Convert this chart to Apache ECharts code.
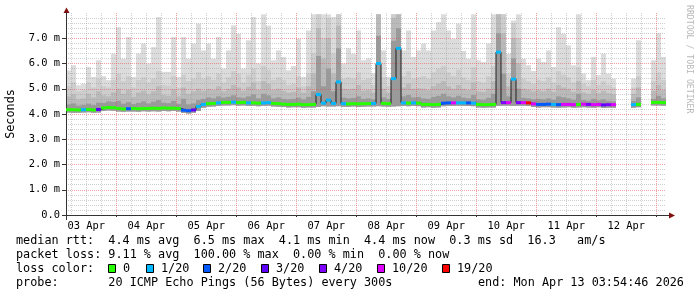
<!DOCTYPE html>
<html><head><meta charset="utf-8">
<script src="https://cdn.jsdelivr.net/npm/echarts@6/dist/echarts.min.js"></script>
<style>html,body{margin:0;padding:0;background:#fff}#c{width:697px;height:297px}</style>
</head><body><div id="c"></div>
<script>
// ---- time frame (minutes after 03 Apr 00:00) ----
const START_MIN = 235;     // 03 Apr 03:55
const END_MIN = 14635;     // 13 Apr 03:55
const BIN_MIN = 120;       // 2-hour consolidation bins
const STEP_MIN = 5;        // axis category step
const dayLabels = ['03 Apr','04 Apr','05 Apr','06 Apr','07 Apr','08 Apr','09 Apr','10 Apr','11 Apr','12 Apr'];

// ---- median rtt (ms) per bin ----
const rttMedian = [4.17,4.17,4.16,4.17,4.18,4.16,4.18,4.24,4.26,4.25,
 4.22,4.20,4.21,4.22,4.21,4.22,4.22,4.23,4.22,4.24,
 4.23,4.23,4.22,4.15,4.13,4.16,4.30,4.38,4.41,4.42,
 4.44,4.46,4.46,4.47,4.45,4.46,4.44,4.44,4.43,4.44,
 4.45,4.42,4.41,4.39,4.38,4.38,4.39,4.37,4.37,4.38,
 4.77,4.43,4.55,4.42,5.27,4.41,4.40,4.41,4.40,4.41,
 4.41,4.42,6.00,4.42,4.41,5.40,6.60,4.44,4.43,4.44,
 4.43,4.38,4.38,4.37,4.38,4.43,4.44,4.44,4.44,4.44,
 4.44,4.43,4.38,4.37,4.37,4.38,6.45,4.45,4.45,5.38,
 4.45,4.45,4.44,4.40,4.38,4.38,4.39,4.38,4.37,4.38,
 4.38,4.37,4.38,4.39,4.38,4.37,4.38,4.36,4.37,4.37,
 null,null,null,4.37,4.38,null,null,4.46,4.46,4.45];
// ---- smoke: lowest ping, inner percentiles, highest ping (ms) ----
const rttMin = [4.06,4.05,4.05,4.06,4.07,4.05,4.06,4.12,4.14,4.13,
 4.10,4.09,4.10,4.10,4.09,4.11,4.10,4.11,4.10,4.12,
 4.11,4.12,4.10,4.04,4.02,4.05,4.12,4.25,4.29,4.30,
 4.32,4.34,4.34,4.35,4.33,4.34,4.32,4.33,4.31,4.32,
 4.33,4.30,4.29,4.28,4.26,4.27,4.27,4.25,4.26,4.26,
 4.28,4.31,4.30,4.30,4.31,4.29,4.28,4.30,4.28,4.29,
 4.30,4.30,4.31,4.30,4.29,4.30,4.31,4.32,4.31,4.32,
 4.31,4.26,4.27,4.25,4.26,4.31,4.32,4.32,4.33,4.32,
 4.32,4.31,4.26,4.25,4.26,4.26,4.32,4.33,4.33,4.32,
 4.33,4.33,4.32,4.28,4.26,4.27,4.27,4.26,4.25,4.26,
 4.27,4.25,4.26,4.27,4.26,4.25,4.27,4.24,4.25,4.25,
 null,null,null,4.25,4.27,null,null,4.34,4.34,4.33];
const rttP1 = [4.38,4.42,4.33,4.36,4.41,4.35,4.45,4.44,4.50,4.48,
 4.52,4.41,4.47,4.39,4.44,4.50,4.42,4.49,4.55,4.45,
 4.43,4.52,4.40,4.60,4.38,4.42,4.55,4.60,4.66,4.62,
 4.70,4.65,4.68,4.74,4.66,4.64,4.70,4.78,4.62,4.80,
 4.74,4.62,4.66,4.60,4.58,4.60,4.65,4.58,4.68,4.90,
 6.30,5.10,5.80,4.90,6.60,4.65,4.62,4.64,4.70,4.60,
 4.62,4.58,7.10,4.66,4.60,6.90,7.40,4.70,4.75,4.66,
 4.68,4.62,4.60,4.68,4.72,4.80,4.70,4.66,4.72,4.65,
 4.62,4.75,4.58,4.56,4.64,4.80,7.20,5.60,4.70,6.20,
 5.00,4.64,4.62,4.58,4.60,4.58,4.62,4.56,4.70,4.66,
 4.62,4.56,4.80,4.55,4.52,4.60,4.54,4.58,4.52,4.50,
 null,null,null,4.52,4.66,null,null,4.60,4.72,4.62];
const rttP2 = [4.70,4.78,4.58,4.62,4.80,4.66,4.90,4.74,4.70,4.86,
 5.00,4.80,4.95,4.68,4.85,4.92,4.78,4.90,5.10,4.75,
 4.72,4.98,4.70,5.05,4.80,4.90,5.00,4.92,5.00,4.95,
 5.10,4.90,5.00,5.15,5.05,4.92,5.08,5.25,4.95,5.30,
 5.20,4.95,5.00,4.92,4.85,4.88,5.05,4.85,5.10,5.60,
 7.40,6.20,7.00,5.60,7.50,5.00,4.98,5.00,5.15,4.92,
 4.95,4.85,7.95,5.00,4.85,7.80,7.95,5.05,5.20,5.00,
 5.02,5.00,4.95,5.10,5.20,5.30,5.10,5.00,5.15,5.00,
 4.95,5.25,4.90,4.88,5.00,5.30,7.95,7.20,5.10,7.00,
 6.00,5.00,4.95,4.90,4.95,4.90,5.00,4.88,5.15,5.05,
 5.00,4.88,5.30,4.85,4.80,4.95,4.82,4.92,4.82,4.78,
 null,null,null,4.80,5.05,null,null,4.92,5.15,4.95];
const rttP3 = [5.10,5.25,4.90,4.95,5.25,5.05,5.40,5.10,5.05,5.35,
 5.60,5.30,5.50,5.05,5.35,5.45,5.25,5.40,5.70,5.15,
 5.12,5.50,5.05,5.55,5.30,5.40,5.65,5.40,5.50,5.35,
 5.60,5.25,5.45,5.70,5.60,5.25,5.55,5.80,5.30,5.90,
 5.75,5.35,5.45,5.35,5.15,5.20,5.50,5.10,5.60,6.40,
 7.95,7.00,7.80,6.40,7.95,5.40,5.45,5.40,5.65,5.35,
 5.40,5.15,7.95,5.45,5.10,7.95,7.95,5.50,5.70,5.40,
 5.45,5.50,5.40,5.65,5.80,5.90,5.65,5.50,5.75,5.45,
 5.35,5.85,5.30,5.25,5.50,5.90,7.95,7.95,5.60,7.60,
 7.00,5.40,5.30,5.20,5.35,5.30,5.45,5.25,5.70,5.55,
 5.45,5.25,5.85,5.20,5.10,5.35,5.15,5.30,5.15,5.05,
 null,null,null,5.05,5.50,null,null,5.30,5.65,5.35];
const rttMax = [5.73,5.93,5.14,5.20,5.86,5.47,6.13,5.50,5.34,6.39,
 7.44,6.19,7.05,5.47,6.39,6.79,6.00,6.65,7.84,5.67,
 5.67,7.05,5.47,7.05,6.19,6.79,7.58,6.52,6.79,6.19,
 7.05,5.80,6.52,7.51,7.18,5.80,6.92,7.84,6.00,7.95,
 7.50,6.13,6.52,6.26,5.73,5.90,6.98,5.47,7.31,7.95,
 7.95,7.95,7.95,7.84,7.95,6.00,6.60,6.39,7.31,6.13,
 6.20,5.60,7.95,6.52,5.47,7.95,7.95,6.52,7.31,6.26,
 6.52,6.79,6.52,7.31,7.64,7.95,7.31,6.98,7.58,6.50,
 6.19,7.95,6.13,6.06,6.79,7.95,7.95,7.95,6.39,7.70,
 7.95,6.19,5.93,5.70,6.19,6.06,6.52,5.86,7.44,7.18,
 6.72,5.93,7.95,5.60,5.34,6.26,5.54,6.39,5.60,5.40,
 null,null,null,5.40,6.92,null,null,6.13,7.20,6.26];
// ---- loss category per bin (index into lossLabels) ----
const lossIndex = [0,0,0,1,0,0,3,0,0,0,
 0,0,2,0,0,0,0,0,0,0,
 0,0,0,2,2,3,1,1,0,0,
 1,0,0,1,0,0,1,0,0,1,
 1,0,0,0,0,0,0,0,0,0,
 1,1,1,1,1,1,0,0,0,0,
 0,1,1,0,0,1,1,1,0,1,
 0,0,0,0,0,2,2,5,1,1,
 2,1,0,0,0,0,1,4,5,1,
 4,5,6,5,2,2,2,1,2,5,
 5,5,0,5,4,5,5,3,4,5,
 null,null,null,1,0,null,null,0,0,0];
const lossLabels = ['0','1/20','2/20','3/20','4/20','10/20','19/20'];
const lossColors = ['#26ff00','#00b8ff','#0059ff','#5e00ff','#7e00ff','#dd00ff','#ff0000'];
const statLines = [
  'median rtt:  4.4 ms avg  6.5 ms max  4.1 ms min  4.4 ms now  0.3 ms sd  16.3   am/s',
  'packet loss: 9.11 % avg  100.00 % max  0.00 % min  0.00 % now',
  'loss color:',
  'probe:       20 ICMP Echo Pings (56 Bytes) every 300s'
];
const endText = 'end: Mon Apr 13 03:54:46 2026';

// ---------------- build ----------------
const N = rttMedian.length;
const MONO = "'DejaVu Sans Mono', monospace";
const axisCats = [];
for (let m = START_MIN; m <= END_MIN; m += STEP_MIN) axisCats.push(String(m));

function band(lowArr, highArr, color) {
  const data = [];
  for (let i = 0; i < N; i++) {
    if (highArr[i] == null) continue;
    const t0 = START_MIN + i * BIN_MIN;
    data.push([t0, t0 + BIN_MIN, lowArr[i], highArr[i]]);
  }
  return {
    type: 'custom', xAxisIndex: 0, yAxisIndex: 0, z: 1, silent: true, animation: false,
    encode: { x: [0, 1], y: [2, 3] },
    renderItem(params, api) {
      const a = api.coord([api.value(0), api.value(3)]);
      const b = api.coord([api.value(1), api.value(2)]);
      return { type: 'rect', shape: { x: a[0], y: a[1], width: b[0] - a[0], height: b[1] - a[1] },
               style: { fill: color } };
    },
    data
  };
}

const medLine = [];
const medSegs = [];
for (let i = 0; i < N; i++) {
  const t0 = START_MIN + i * BIN_MIN, t1 = t0 + BIN_MIN;
  if (rttMedian[i] == null) { medLine.push([t0, null]); continue; }
  medLine.push([t0, rttMedian[i]]);
  if (i === N - 1 || rttMedian[i + 1] == null) medLine.push([t1, rttMedian[i]]);
  medSegs.push([t0, t1, rttMedian[i], lossIndex[i]]);
}

const greyGrid = 'rgba(150,150,150,0.45)';
const redGrid = 'rgba(225,70,70,0.5)';
const isSix = (v) => { const m = +v; return m % 360 === 0 && m % 1440 !== 0; };
const isMid = (v) => +v % 1440 === 0;
const isNoon = (v) => +v % 1440 === 720;

const chart = echarts.init(document.getElementById('c'), null, { renderer: 'canvas' });
chart.setOption({
  animation: false,
  backgroundColor: '#ffffff',
  grid: { left: 66, top: 13, width: 600, height: 202, containLabel: false, outerBoundsMode: 'none' },
  xAxis: [
    { type: 'value', min: START_MIN, max: END_MIN, show: false, gridIndex: 0 },
    { type: 'category', data: axisCats, boundaryGap: false, position: 'bottom', z: 3, gridIndex: 0,
      axisLine: { show: true, lineStyle: { color: '#333', width: 1 } },
      axisTick: { show: false },
      axisLabel: { interval: (i, v) => isNoon(v), formatter: (v) => dayLabels[Math.floor(+v / 1440)],
                   color: '#000', fontFamily: MONO, fontSize: 10.4, margin: 6 },
      splitLine: { show: true, interval: (i, v) => isSix(v), lineStyle: { color: greyGrid, width: 1, type: [1, 1] } } },
    { type: 'category', data: axisCats, boundaryGap: false, position: 'bottom', z: 3, gridIndex: 0,
      axisLine: { show: false },
      axisTick: { show: true, interval: (i, v) => isMid(v), length: 2, lineStyle: { color: '#333' } },
      axisLabel: { show: false },
      splitLine: { show: true, interval: (i, v) => isMid(v), lineStyle: { color: redGrid, width: 1, type: [1, 1] } } }
  ],
  yAxis: [{
    type: 'value', min: 0, max: 8, interval: 1, z: 3,
    name: 'Seconds', nameLocation: 'middle', nameRotate: 90, nameGap: 49,
    nameTextStyle: { color: '#000', fontFamily: MONO, fontSize: 11.8 },
    axisLine: { show: true, lineStyle: { color: '#333', width: 1 } },
    axisTick: { show: true, length: 4, lineStyle: { color: '#333' } },
    axisLabel: { color: '#000', fontFamily: MONO, fontSize: 10.4, margin: 6, showMaxLabel: false, showMinLabel: true,
                 formatter: (v) => v === 0 ? '0.0' : (v >= 8 ? '' : v.toFixed(1) + ' m') },
    splitLine: { show: true, showMinLine: false, showMaxLine: false, lineStyle: { color: redGrid, width: 1, type: [1, 1] } },
    minorTick: { show: false, splitNumber: 5 },
    minorSplitLine: { show: true, lineStyle: { color: greyGrid, width: 1, type: [1, 1] } }
  }],
  series: [
    band(rttMin, rttMax, '#dcdcdc'),
    band(rttMin, rttP3, '#cdcdcd'),
    band(rttMin, rttP2, '#bababa'),
    band(rttMin, rttP1, '#9a9a9a'),
    { type: 'line', xAxisIndex: 0, yAxisIndex: 0, data: medLine, step: 'end', showSymbol: false, symbol: 'none',
      connectNulls: false, z: 5, silent: true, lineStyle: { color: '#202020', width: 1 } },
    { type: 'custom', xAxisIndex: 0, yAxisIndex: 0, z: 6, silent: true,
      encode: { x: [0, 1], y: 2 },
      renderItem(params, api) {
        const a = api.coord([api.value(0), api.value(2)]);
        const b = api.coord([api.value(1), api.value(2)]);
        return { type: 'rect', shape: { x: a[0], y: a[1] - 1.5, width: b[0] - a[0], height: 3 },
                 style: { fill: lossColors[api.value(3)] } };
      },
      data: medSegs }
  ],
  graphic: (function () {
    const g = [];
    // axis extensions and arrows
    g.push({ type: 'line', shape: { x1: 66.5, y1: 9, x2: 66.5, y2: 13 }, style: { stroke: '#333', lineWidth: 1 } });
    g.push({ type: 'line', shape: { x1: 66.5, y1: 215, x2: 66.5, y2: 220 }, style: { stroke: '#333', lineWidth: 1 } });
    g.push({ type: 'line', shape: { x1: 666, y1: 215.5, x2: 670, y2: 215.5 }, style: { stroke: '#333', lineWidth: 1 } });
    g.push({ type: 'polygon', shape: { points: [[66.5, 7.5], [63.5, 13], [69.5, 13]] }, style: { fill: '#7f1010' } });
    g.push({ type: 'polygon', shape: { points: [[675, 215.5], [669, 212.5], [669, 218.5]] }, style: { fill: '#7f1010' } });
    // watermark
    g.push({ type: 'text', x: 689, y: 5, rotation: -Math.PI / 2,
             style: { text: 'RRDTOOL / TOBI OETIKER', fill: '#b8b8b8', font: "8.2px 'DejaVu Sans Mono', monospace",
                      textAlign: 'left', textVerticalAlign: 'middle' } });
    // legend text rows
    const rowY = [241, 255, 269, 283];
    statLines.forEach((s, k) => {
      g.push({ type: 'text', x: 16, y: rowY[k],
               style: { text: s, fill: '#000', font: "11.8px 'DejaVu Sans Mono', monospace", textAlign: 'left', textVerticalAlign: 'middle' } });
    });
    g.push({ type: 'text', x: 478, y: rowY[3],
             style: { text: endText, fill: '#000', font: "11.8px 'DejaVu Sans Mono', monospace", textAlign: 'left', textVerticalAlign: 'middle' } });
    const boxX = [108.5, 146.5, 203.5, 261.5, 319.5, 377.5, 442.5];
    lossLabels.forEach((lab, k) => {
      g.push({ type: 'rect', shape: { x: boxX[k], y: 264.5, width: 7, height: 8 },
               style: { fill: lossColors[k], stroke: '#000', lineWidth: 1 } });
      g.push({ type: 'text', x: boxX[k] + 14.5, y: rowY[2],
               style: { text: lab, fill: '#000', font: "11.8px 'DejaVu Sans Mono', monospace", textAlign: 'left', textVerticalAlign: 'middle' } });
    });
    return g;
  })()
});
</script></body></html>
